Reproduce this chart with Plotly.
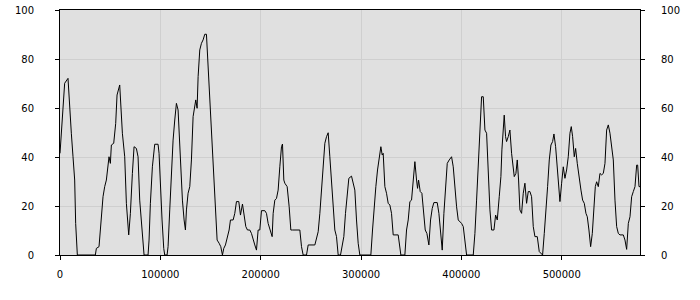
import plotly.graph_objects as go

x_vals = [0, 4650, 7980, 9640, 11300, 12960, 14630, 15620, 17280, 35230, 36230, 38890,
          41220, 42880, 44540, 46200, 48860, 50190, 51190, 53520, 55510, 56840, 59500,
          60500, 62160, 64490, 66150, 68470, 70140, 72130, 73790, 76120, 77780, 79440,
          82100, 83760, 87750, 88750, 90080, 92070, 94400, 97730, 98720, 100050, 101710,
          103380, 104370, 106700, 107700, 109360, 111020, 112690, 114350, 116010,
          117680, 119340, 120340, 122000, 123670, 125000, 126000, 127650, 129320,
          130980, 132640, 135300, 136630, 137630, 139290, 140950, 142610, 144270,
          145940, 147600, 149260, 150920, 152580, 153580, 155240, 156570, 158570,
          160230, 161890, 163220, 164880, 166880, 168540, 169870, 172530, 174190,
          175850, 178180, 179840, 181840, 183500, 185160, 186820, 189150, 190810,
          192470, 194130, 195800, 197460, 199120, 200780, 204110, 205770, 207430,
          209090, 211420, 212420, 214080, 215740, 217400, 219060, 220730, 221720,
          223050, 224050, 226380, 228370, 230030, 231700, 239010, 240670, 242330,
          245660, 247320, 253970, 255630, 257290, 258950, 260610, 262280, 263940,
          265600, 267260, 268900, 270570, 272230, 273890, 275550, 277220, 279530,
          281190, 282850, 284510, 286180, 287840, 290500, 292160, 293820, 295480,
          297150, 298810, 309780, 311440, 313100, 314760, 316430, 318090, 319750,
          321080, 322080, 323740, 325400, 327060, 328730, 330390, 332050, 337030,
          338700, 339690, 343680, 345350, 347010, 348670, 350330, 352000, 353660,
          355320, 356320, 357320, 358980, 360640, 362300, 363970, 365630, 367620,
          369280, 370940, 372600, 375930, 377590, 379250, 380910, 382580, 384240,
          385900, 387890, 390220, 391880, 393540, 395210, 396870, 400190, 401860,
          403520, 405180, 411830, 413490, 415150, 416820, 418480, 420140, 421800,
          423460, 425130, 426790, 428450, 430110, 432440, 434100, 435760, 437730,
          439380, 440380, 441710, 442700, 444030, 445030, 446690, 448360, 450020,
          451680, 452680, 454340, 455670, 457000, 458330, 459990, 461650, 463310,
          464980, 466640, 468300, 469960, 471630, 473290, 475620, 477610, 479270,
          480930, 482600, 484260, 485920, 487580, 489240, 490910, 492240, 493900,
          495560, 497220, 498220, 499880, 501540, 503200, 504860, 506530, 508190,
          509520, 510850, 512510, 513840, 515500, 517160, 519160, 520820, 522480,
          524140, 525470, 527130, 528800, 530460, 532120, 533450, 534780, 536440,
          538100, 539770, 541430, 543090, 544750, 546410, 548080, 549740, 551400,
          553060, 554730, 556390, 558050, 561370, 563030, 564700, 566360, 568020,
          569680, 571340, 573010, 574670, 575670, 577000, 578000]

y_vals = [41.5, 70.1, 72.1, 59.2, 49.7, 40.1, 30.6, 12.9, 0, 0, 2.7, 3.4,
          14.3, 23.8, 27.9, 30.6, 40.1, 37.4, 44.9, 45.6, 53.7, 65.3, 69.4,
          63.3, 49.7, 40.1, 21.1, 8.2, 17, 33.3, 44.2, 43.5, 40.1, 22.4,
          8.8, 0, 0, 6.1, 21.1, 36, 45.2, 45.2, 41.5, 26.5, 14.3,
          2.7, 0, 0, 3.4, 18.4, 34.7, 46.9, 55.1, 61.9,
          59.2, 45.6, 33.3, 22.4, 14.3, 10.2, 18.4, 25.2, 27.9,
          38.8, 56.5, 63.3, 59.9, 72.8, 83.7, 86.4, 87.8, 90.1,
          90.1, 76.9, 66, 53.7, 41.5, 32, 15.6, 6.1, 4.8,
          3.4, 0, 2.7, 4.1, 7.5, 10.2, 14.3, 14.3, 17,
          21.8, 21.8, 16.3, 20.8, 17, 11.6, 10.2, 10.2, 8.8,
          6.1, 4.1, 2, 10.2, 10.2, 18.1, 18.1, 17, 12.9,
          10.9, 7.5, 17, 22.4, 23.1, 26.5, 36, 44.2, 45.3,
          30.6, 29.3, 27.9, 19.7, 10.2, 10.2, 10.2, 3.4, 0,
          0, 4.1, 4.1, 7.5, 9.5, 17, 26.5, 37.4, 45.6,
          48.3, 49.9, 40.1, 30.6, 19.7, 10.2, 7.5, 0, 0,
          4.1, 7.5, 17, 23.8, 31.3, 32.2, 29.3, 26.5, 14.3,
          4.8, 0, 0, 10.2, 21.1, 27.9, 34.7, 38.8, 44.2,
          40.8, 41.5, 27.9, 25.2, 21.1, 20.4, 17, 8.2, 8.2,
          3.4, 0, 0, 10.2, 14.3, 21.8, 22.4, 29.3, 38.1,
          30.6, 27.2, 30.6, 25.9, 25.2, 18.4, 10.2, 8.8, 4.1,
          14.3, 19, 21.4, 21.4, 17, 7.5, 2, 17, 29.3,
          37.4, 38.8, 40.1, 36, 26.5, 19.7, 14.3, 12.9, 11.6,
          4.8, 0, 0, 8.8, 22.4, 37.4, 51, 64.6, 64.6,
          51, 49.7, 30.6, 18.4, 10.2, 10.2, 16.3, 14.3, 23.8,
          32, 42.9, 53.7, 57.1, 48.3, 46.3, 48.3, 51, 41.5,
          36.7, 32, 33.3, 38.8, 30.6, 18.4, 17, 25.2, 29.3,
          21.1, 25.9, 25.9, 23.8, 11.6, 7.5, 7.5, 1.4, 0.7,
          0, 8.8, 17, 27.9, 38.8, 44.9, 46.3, 49.4, 44.2,
          34.7, 25.2, 21.8, 29.3, 36, 31.3, 34.7, 40.1, 49.7,
          52.4, 48.3, 40.1, 43.5, 37.4, 33.3, 26.5, 22.4, 21.1,
          17, 15.6, 10.2, 3.4, 8.8, 21.1, 27.9, 29.9, 27.9,
          33.3, 32.7, 33.3, 37.4, 51, 53.1, 49.7, 44.2, 38.8,
          22.4, 11.6, 8.8, 8.2, 8.2, 6.1, 2.3, 12.9, 15.6,
          23.8, 25.9, 27.9, 36.7, 36.7, 27.9, 27.9]

x_ticks = [0, 100000, 200000, 300000, 400000, 500000]
y_ticks = [0, 20, 40, 60, 80, 100]

font = dict(family="DejaVu Sans", size=10, color="#000000")

fig = go.Figure()
fig.add_trace(go.Scatter(x=x_vals, y=y_vals, mode="lines",
                         line=dict(color="#000000", width=1), showlegend=False,
                         hoverinfo="skip"))
# transparent copy so that the right-hand axis is drawn
fig.add_trace(go.Scatter(x=x_vals, y=y_vals, mode="lines", yaxis="y2",
                         line=dict(color="rgba(0,0,0,0)", width=0), showlegend=False,
                         hoverinfo="skip"))

fig.update_layout(
    width=700, height=300,
    margin=dict(l=60, r=60, t=10, b=45, autoexpand=False),
    paper_bgcolor="#ffffff",
    plot_bgcolor="#e0e0e0",
    font=font,
    xaxis=dict(range=[0, 578000], tickvals=x_ticks, ticktext=[str(v) for v in x_ticks],
               showgrid=True, gridcolor="#cfcfcf", gridwidth=1,
               showline=True, linecolor="#000000", linewidth=1, mirror=True,
               ticks="outside", ticklen=4, tickcolor="#000000", automargin=False,
               ticklabelstandoff=6, zeroline=False, tickfont=font),
    yaxis=dict(range=[0, 100], tickvals=y_ticks, ticktext=[str(v) for v in y_ticks],
               showgrid=True, gridcolor="#cfcfcf", gridwidth=1,
               showline=True, linecolor="#000000", linewidth=1, mirror=True,
               ticks="outside", ticklen=4, tickcolor="#000000", automargin=False,
               ticklabelstandoff=19, zeroline=False, tickfont=font),
    yaxis2=dict(range=[0, 100], tickvals=y_ticks, ticktext=[str(v) for v in y_ticks],
                overlaying="y", side="right", anchor="x",
                showgrid=False, showline=False, zeroline=False, automargin=False,
                ticks="outside", ticklen=4, tickcolor="#000000",
                ticklabelstandoff=14, tickfont=font),
)

fig.write_html("out.html")
